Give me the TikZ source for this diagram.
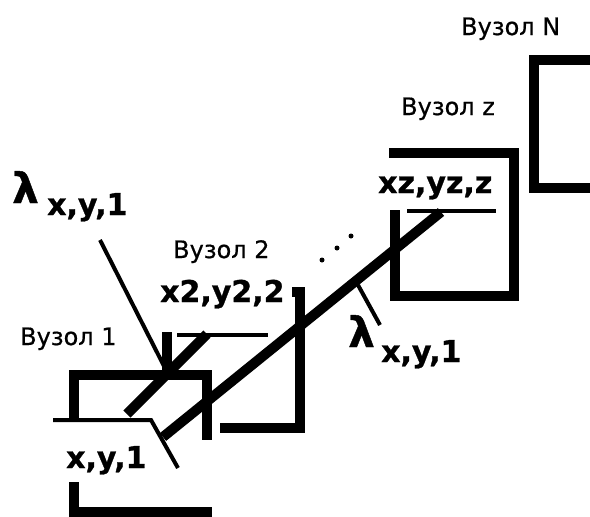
\documentclass[tikz,border=0pt]{standalone}
\usepackage{fontspec}
\setmainfont{DejaVu Sans}
\newfontfamily\regfont{DejaVu Sans}[FakeBold=0.6]
\newfontfamily\boldfont{DejaVu Sans Bold}[FakeBold=1.0]
\begin{document}
\begin{tikzpicture}[x=1pt,y=-1pt,
  heavy/.style={line width=10pt,line join=miter,line cap=butt},
  light/.style={line width=4pt,line join=miter,line cap=butt},
  nodelabel/.style={anchor=base west,inner sep=0pt,font=\regfont\fontsize{24}{28}\selectfont},
  coordlabel/.style={anchor=base west,inner sep=0pt,font=\boldfont\fontsize{30}{34}\selectfont},
  lam/.style={anchor=base west,inner sep=0pt,font=\boldfont\fontsize{42}{46}\selectfont}]
\useasboundingbox (0,0) rectangle (590,517);
% node N
\draw[heavy] (591,60) -- (534,60) -- (534,188) -- (591,188);
% node z
\draw[heavy] (389,153) -- (514,153) -- (514,296) -- (394.5,296) -- (394.5,210);
\draw[light] (407,211) -- (496,211);
% node 2
\draw[heavy] (292,292) -- (300,292) -- (300,428) -- (220,428);
\draw[heavy] (167,332) -- (167,371);
\draw[light] (177,335) -- (268,335);
% node 1
\draw[heavy] (74,420) -- (74,375) -- (207,375) -- (207,440);
\draw[light] (53,420) -- (151,420) -- (178,468);
\draw[heavy] (74,482) -- (74,512) -- (212,512);
% diagonals
\draw[heavy] (127,414) -- (207,334);
\draw[heavy] (163,437) -- (441,212);
% lambda pointer lines
\draw[light] (100,240) -- (166,370);
\draw[light] (358,285) -- (380,325);
% dots
\fill (322,260) circle (2.5) (337,248) circle (2.5) (351,236) circle (2.5);
% labels
\node[nodelabel] (lN) at (461,35) {Вузол N};
\node[nodelabel] (lz) at (401,115) {Вузол z};
\node[nodelabel] (l2) at (173,258) {Вузол 2};
\node[nodelabel] (l1) at (20,345) {Вузол 1};
\node[coordlabel] (cz) at (378,193) {xz,yz,z};
\node[coordlabel] (c2) at (160,302) {x2,y2,2};
\node[coordlabel] (c1) at (66,468) {x,y,1};
\node[coordlabel] (ca) at (47,215) {x,y,1};
\node[coordlabel] (cb) at (381,362) {x,y,1};
\node[lam] (la) at (12,203) {λ};
\node[lam] (lb) at (348,347) {λ};
\end{tikzpicture}
\end{document}
